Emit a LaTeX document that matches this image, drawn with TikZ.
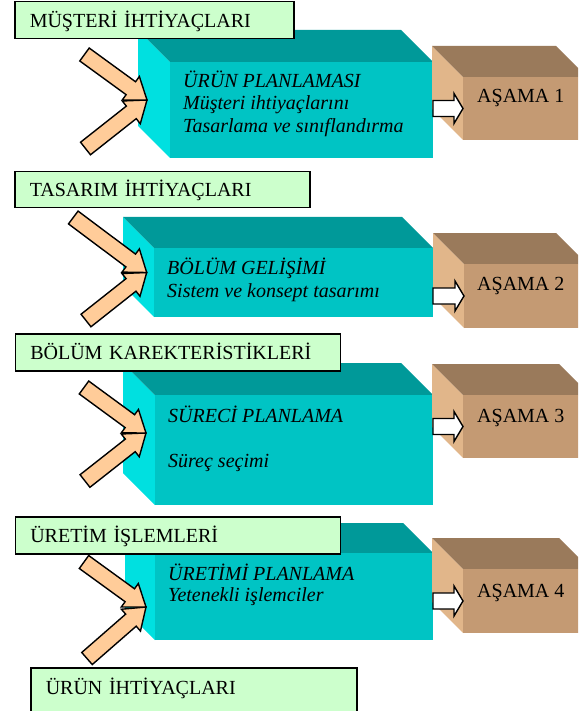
\documentclass[tikz,border=0pt]{standalone}
\usepackage{fontspec}
\setmainfont{Liberation Serif}
\usetikzlibrary{calc}

\definecolor{labelgreen}{HTML}{CCFFCC}
\definecolor{peach}{HTML}{FFCC99}
\definecolor{cyanfront}{HTML}{00C4C4}
\definecolor{cyanside}{HTML}{00E0E0}
\definecolor{cyantop}{HTML}{009999}
\definecolor{brownfront}{HTML}{C49A73}
\definecolor{brownside}{HTML}{E1B68A}
\definecolor{browntop}{HTML}{9A7A5B}

% box with a front face (named node), a left face and a top face
% #1 name, #2/#3 front top-left, #4/#5 front bottom-right, #6 depth,
% #7 front colour, #8 side colour, #9 top colour
\newcommand\prism[9]{%
  \fill[#8] (#2,#3) -- ++(-#6,-#6) -- (#2-#6,#5-#6) -- (#2,#5) -- cycle;
  \fill[#9] (#2,#3) -- ++(-#6,-#6) -- (#4-#6,#3-#6) -- (#4,#3) -- cycle;
  \node[fill=#7, draw=none, inner sep=0pt, outer sep=0pt, anchor=north west,
        minimum width={(#4-#2)*1pt}, minimum height={(#5-#3)*1pt}] (#1) at (#2,#3) {};
}

% block arrow: #1 style, #2 tail, #3 tip, #4 shaft half width,
% #5 head half width, #6 head length
\newcommand\blockarrow[6]{%
  \coordinate (ba-h) at ($(#3)!#6!(#2)$);
  \filldraw[#1] ($(#2)!#4!90:(#3)$) -- ($(ba-h)!#4!90:(#3)$)
    -- ($(ba-h)!#5!90:(#3)$) -- (#3) -- ($(ba-h)!#5!-90:(#3)$)
    -- ($(ba-h)!#4!-90:(#3)$) -- ($(#2)!#4!-90:(#3)$) -- cycle;
}

\tikzset{
  lbl/.style={draw=black, line width=1.5pt, fill=labelgreen, anchor=north west,
    inner xsep=15pt, inner ysep=10pt, text height=14.5pt, text depth=0.5pt,
    minimum height=37pt, align=left, font=\fontsize{20}{22}\selectfont},
  ital/.style={anchor=base west, inner sep=0pt, font=\fontsize{20}{22}\selectfont\itshape},
  stage/.style={anchor=base west, inner sep=0pt, font=\fontsize{20}{22}\selectfont},
  feed/.style={fill=peach, draw=black, line width=1.4pt, line join=miter},
  pass/.style={fill=white, draw=black, line width=1.4pt, line join=miter}
}

\begin{document}
\begin{tikzpicture}[x=1pt, y=-1pt]
\useasboundingbox (0,0) rectangle (578,711);
\clip (0,0) rectangle (578,711);

% planning blocks
\prism{c1}{170}{62}{433}{158}{32}{cyanfront}{cyanside}{cyantop}
\prism{c2}{154}{248}{433}{317}{31}{cyanfront}{cyanside}{cyantop}
\prism{c3}{155}{395}{433}{505}{32}{cyanfront}{cyanside}{cyantop}
\prism{c4}{155}{553}{433}{640}{30}{cyanfront}{cyanside}{cyantop}

% stage blocks
\prism{a1}{463}{77}{587}{140}{31}{brownfront}{brownside}{browntop}
\prism{a2}{464}{264}{587}{328}{31}{brownfront}{brownside}{browntop}
\prism{a3}{463}{395}{590}{458}{31}{brownfront}{brownside}{browntop}
\prism{a4}{463}{569}{590}{633}{31}{brownfront}{brownside}{browntop}

% block texts
\node[ital] (c1t1) at (183,88) {ÜRÜN PLANLAMASI};
\node[ital] (c1t2) at (183,110) {Müşteri ihtiyaçlarını};
\node[ital] (c1t3) at (183,132.5) {Tasarlama ve sınıflandırma};
\node[ital] (c2t1) at (167,274) {BÖLÜM GELİŞİMİ};
\node[ital] (c2t2) at (167,297.5) {Sistem ve konsept tasarımı};
\node[ital] (c3t1) at (168,422) {SÜRECİ PLANLAMA};
\node[ital] (c3t2) at (168,467) {Süreç seçimi};
\node[ital] (c4t1) at (168,580) {ÜRETİMİ PLANLAMA};
\node[ital] (c4t2) at (168,601) {Yetenekli işlemciler};

\node[stage] (a1t) at (477,103) {AŞAMA 1};
\node[stage] (a2t) at (477,290) {AŞAMA 2};
\node[stage] (a3t) at (477,422) {AŞAMA 3};
\node[stage] (a4t) at (477,597) {AŞAMA 4};

% arrows from each planning block to its stage
\foreach \i in {1,2,3,4}{
  \coordinate (w\i) at (c\i.east |- a\i.west);
  \blockarrow{pass}{w\i}{a\i.west}{8pt}{15pt}{9pt}
}

% input arrows
\coordinate (u1) at (84.5,54.5);  \coordinate (l1) at (85.5,148.5); \coordinate (p1) at (147,100);
\coordinate (u2) at (73.3,217.5); \coordinate (l2) at (86,320.5);   \coordinate (p2) at (146.7,272.5);
\coordinate (u3) at (84,387.5);   \coordinate (l3) at (85,481);     \coordinate (p3) at (146,433);
\coordinate (u4) at (84,562);     \coordinate (l4) at (87,658.5);   \coordinate (p4) at (146,607);
\foreach \i in {1,2,3,4}{
  \blockarrow{feed}{l\i}{p\i}{8pt}{14.5pt}{20pt}
  \blockarrow{feed}{u\i}{p\i}{8pt}{14.5pt}{20pt}
}

% requirement labels
\node[lbl, text width=249pt] (n1) at (14,1) {MÜŞTERİ İHTİYAÇLARI};
\node[lbl, text width=265pt, minimum height=36pt] (n2) at (14,171) {TASARIM İHTİYAÇLARI};
\node[lbl, text width=295pt] (n3) at (14.5,333) {BÖLÜM KAREKTERİSTİKLERİ};
\node[lbl, text width=295pt] (n4) at (14.5,516) {ÜRETİM İŞLEMLERİ};
\node[lbl, text width=296pt, minimum height=50pt, text height=14pt, text depth=10pt] (n5) at (30,667) {ÜRÜN İHTİYAÇLARI};
\end{tikzpicture}
\end{document}
